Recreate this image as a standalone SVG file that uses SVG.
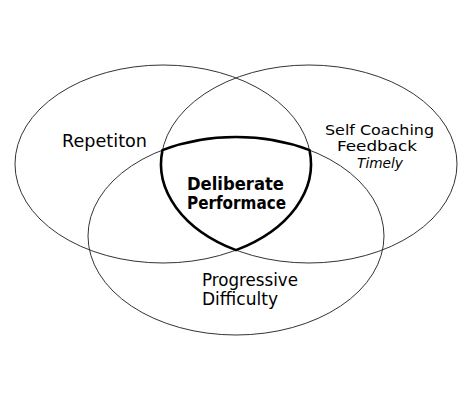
<svg xmlns="http://www.w3.org/2000/svg" width="473" height="402" viewBox="0 0 473 402">
<style>
.c{fill:none;stroke:#333;stroke-width:1}
.core{fill:none;stroke:#000;stroke-width:2.6;stroke-linejoin:miter}
.t{font-family:"DejaVu Sans","Liberation Sans",sans-serif;font-size:17px;fill:#000}
.s{font-size:14.5px}
.b{font-weight:bold}
.i{font-style:italic}
</style>
<rect width="473" height="402" fill="#fff"/>
<g id="repetition">
<ellipse class="c" cx="163" cy="164" rx="148" ry="99"/>
<text class="t" x="62" y="147" textLength="85" lengthAdjust="spacingAndGlyphs">Repetiton</text>
</g>
<g id="self-coaching">
<ellipse class="c" cx="309" cy="164" rx="148" ry="99"/>
<text class="t s" x="325" y="134.5" textLength="109" lengthAdjust="spacingAndGlyphs">Self Coaching</text>
<text class="t s" x="337" y="151" textLength="80" lengthAdjust="spacingAndGlyphs">Feedback</text>
<text class="t s i" x="357" y="167.5" textLength="46" lengthAdjust="spacingAndGlyphs">Timely</text>
</g>
<g id="progressive-difficulty">
<ellipse class="c" cx="236" cy="236" rx="148" ry="99"/>
<text class="t" x="202" y="286" textLength="96" lengthAdjust="spacingAndGlyphs">Progressive</text>
<text class="t" x="202" y="305" textLength="76" lengthAdjust="spacingAndGlyphs">Difficulty</text>
</g>
<g id="deliberate-performace">
<path class="core" d="M162.5,150.1 A148,99 0 0,1 309.5,150.1 A148,99 0 0,1 236,250.1 A148,99 0 0,1 162.5,150.1 Z"/>
<text class="t b" x="187" y="190" textLength="97" lengthAdjust="spacingAndGlyphs">Deliberate</text>
<text class="t b" x="187" y="209" textLength="99" lengthAdjust="spacingAndGlyphs">Performace</text>
</g>
<g id="connectors"/>
</svg>
